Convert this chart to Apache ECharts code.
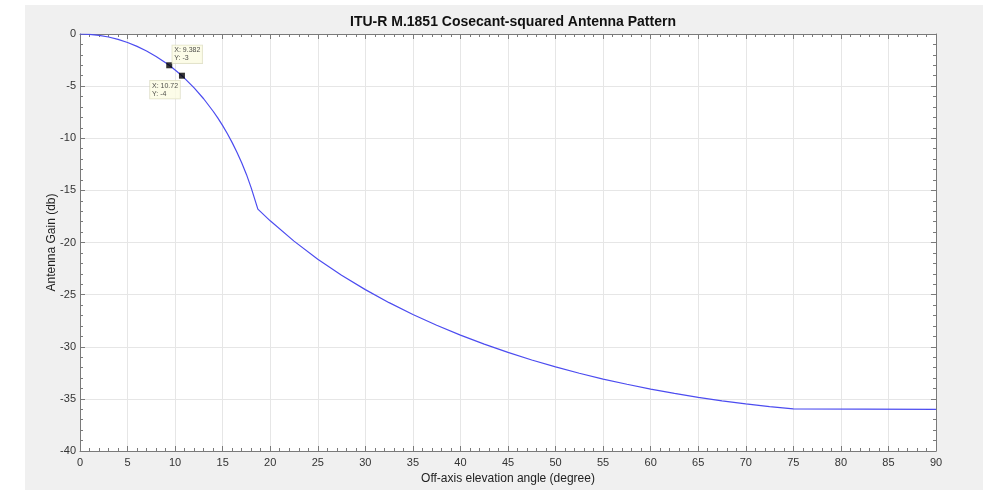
<!DOCTYPE html>
<html>
<head>
<meta charset="utf-8">
<script src="https://cdn.jsdelivr.net/npm/echarts@6/dist/echarts.min.js"></script>
<style>
html,body{margin:0;padding:0;background:#fff;width:999px;height:490px;overflow:hidden;}
#bg{position:absolute;left:25px;top:5px;width:958px;height:485px;background:#f0f0f0;}
#chart{position:absolute;left:0;top:0;width:999px;height:490px;}
</style>
</head>
<body>
<div id="bg"></div>
<div id="chart"></div>
<script>
// Off-axis angle (deg) and gain (dB)
var angles = [0,1,2,3,4,5,6,7,8,9,9.382,10,10.72,11,12,13,14,14.5,15,15.5,16,16.5,17,17.5,18,18.7,
              20,22.5,25,27.5,30,32.5,35,37.5,40,42.5,45,47.5,50,52.5,55,57.5,60,62.5,65,67.5,70,72.5,75,90];
var gains  = [0,-0.03,-0.13,-0.29,-0.52,-0.82,-1.19,-1.63,-2.15,-2.75,-3,-3.45,-4,-4.25,-5.17,-6.21,-7.41,-8.07,-8.79,-9.57,-10.42,-11.34,-12.35,-13.47,-14.76,-16.8,
              -17.92,-19.87,-21.6,-23.14,-24.52,-25.77,-26.9,-27.94,-28.88,-29.75,-30.54,-31.27,-31.93,-32.54,-33.1,-33.6,-34.06,-34.48,-34.85,-35.19,-35.48,-35.74,-35.96,-36];
// Data tips
var tipX = [9.382, 10.72];
var tipY = [-3, -4];
var tipLabels = ['X: 9.382\nY: -3', 'X: 10.72\nY: -4'];
var xTicks = {min:0, max:90, step:5};
var yTicks = {min:-40, max:0, step:5};

var lineData = angles.map(function(a,i){return [a, gains[i]];});
var tipOffsets = [[6,-17],[-29,8]];
var tipData = tipX.map(function(x,i){
  return {value:[x, tipY[i]], label:{formatter: tipLabels[i], position: tipOffsets[i]}};
});

var axisColor = '#7a7a7a';
var labelColor = '#333';
function xAx(pos, showLabel, showSplit){
  return {
    type:'value', position:pos, min:xTicks.min, max:xTicks.max, interval:xTicks.step,
    axisLine:{show:true, onZero:false, lineStyle:{color:axisColor, width:1}},
    axisTick:{show:true, inside:true, length:5, lineStyle:{color:axisColor}},
    minorTick:{show:true, splitNumber:5, length:3, lineStyle:{color:axisColor}},
    axisLabel:{show:showLabel, color:labelColor, fontSize:11, margin:6, fontFamily:'Liberation Sans, Arial, sans-serif'},
    splitLine:{show:showSplit, lineStyle:{color:'#e6e6e6', width:1}},
    minorSplitLine:{show:false}
  };
}
function yAx(pos, showLabel, showSplit){
  return {
    type:'value', position:pos, min:yTicks.min, max:yTicks.max, interval:yTicks.step,
    axisLine:{show:true, onZero:false, lineStyle:{color:axisColor, width:1}},
    axisTick:{show:true, inside:true, length:5, lineStyle:{color:axisColor}},
    minorTick:{show:true, splitNumber:5, length:3, lineStyle:{color:axisColor}},
    axisLabel:{show:showLabel, color:labelColor, fontSize:11, margin:4, fontFamily:'Liberation Sans, Arial, sans-serif'},
    splitLine:{show:showSplit, lineStyle:{color:'#e6e6e6', width:1}},
    minorSplitLine:{show:false}
  };
}

var xa = xAx('bottom', true, true);
xa.name = 'Off-axis elevation angle (degree)';
xa.nameLocation = 'middle';
xa.nameGap = 22;
xa.nameTextStyle = {color:'#222', fontSize:12, fontFamily:'Liberation Sans, Arial, sans-serif'};
var xb = xAx('top', false, false);
var ya = yAx('left', true, true);
ya.name = 'Antenna Gain (db)';
ya.nameLocation = 'middle';
ya.nameGap = 22;
ya.nameMoveOverlap = false;
ya.nameTextStyle = {color:'#222', fontSize:12, fontFamily:'Liberation Sans, Arial, sans-serif'};
var yb = yAx('right', false, false);

var chart = echarts.init(document.getElementById('chart'), null, {renderer:'canvas'});
chart.setOption({
  backgroundColor:'transparent',
  animation:false,
  title:{
    text:'ITU-R M.1851 Cosecant-squared Antenna Pattern',
    left:508, top:10, textAlign:'center',
    textStyle:{fontSize:14, fontWeight:'bold', color:'#111', fontFamily:'Liberation Sans, Arial, sans-serif'}
  },
  grid:{left:80, right:63, top:34, bottom:38, show:true, backgroundColor:'#fff', borderWidth:0},
  xAxis:[xa, xb],
  yAxis:[ya, yb],
  series:[
    {type:'line', data:lineData, xAxisIndex:0, yAxisIndex:0, showSymbol:false, symbol:'none',
     lineStyle:{color:'#4c4cf0', width:1.2}, z:3},
    {type:'scatter', data:tipData, xAxisIndex:0, yAxisIndex:0, symbol:'rect', symbolSize:6,
     itemStyle:{color:'#000'}, z:5,
     label:{show:true, align:'left', verticalAlign:'top', fontSize:7, lineHeight:8, color:'#222',
            backgroundColor:'#fbfbe2', borderColor:'#d4d4b8', borderWidth:0.6, padding:[1,2,1,2],
            fontFamily:'Liberation Sans, Arial, sans-serif'}}
  ]
});
</script>
</body>
</html>
